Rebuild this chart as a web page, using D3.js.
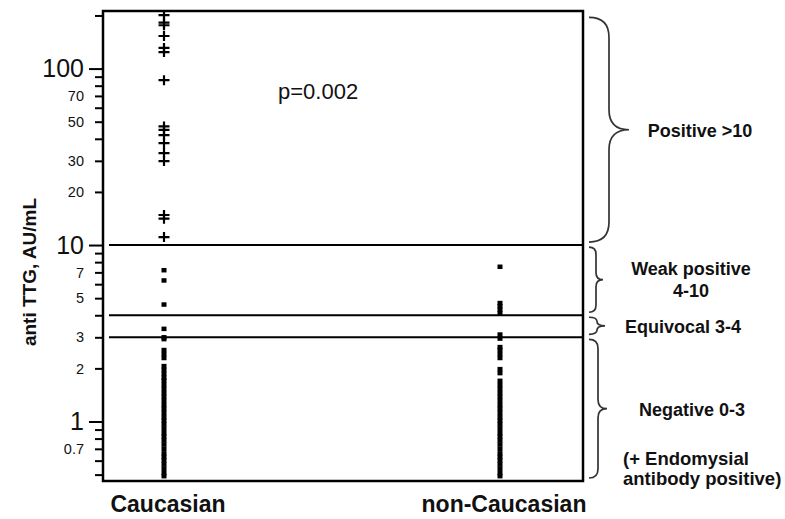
<!DOCTYPE html>
<html>
<head>
<meta charset="utf-8">
<script src="https://cdn.jsdelivr.net/npm/d3@7"></script>
<style>
    body { margin: 0; background: #fff; }
    svg { display: block; font-family: "Liberation Sans", Arial, sans-serif; }
</style>
</head>
<body>
<svg id="chart" width="785" height="519"></svg>
<script>
// anti TTG values (AU/mL)
var groups = [ 'Caucasian', 'non-Caucasian' ];
var caucasian = [
    201, 182, 176, 153, 131, 124, 86, 47, 45, 42, 37.8, 33.2, 29.9, 14.8, 14.1, 11.1,
    7.2, 6.3, 4.6, 3.35, 3.0, 2.93,
    2.54, 2.41, 2.29,
    2.06, 1.96, 1.86, 1.77, 1.70,
    1.61, 1.53, 1.45, 1.38, 1.31, 1.24, 1.18, 1.12, 1.06, 1.01, 0.96, 0.91,
    0.86, 0.82, 0.78, 0.74, 0.70, 0.66, 0.63, 0.60, 0.57, 0.54, 0.51, 0.49
];
var nonCaucasian = [
    7.53,
    4.69, 4.5, 4.3, 4.1,
    3.11, 2.95,
    2.64, 2.54, 2.41, 2.29,
    1.98, 1.88,
    1.70, 1.61, 1.53, 1.45, 1.38, 1.31, 1.24, 1.18, 1.12, 1.06, 1.01, 0.96, 0.91,
    0.86, 0.82, 0.78, 0.74, 0.70, 0.66, 0.63, 0.60, 0.57, 0.54, 0.51, 0.49
];
var cutoffs = [ 10, 4, 3 ];
var tickValues = [ 0.5, 0.6, 0.7, 0.8, 0.9, 1, 2, 3, 4, 5, 6, 7, 8, 9, 10,
                   20, 30, 40, 50, 60, 70, 80, 90, 100, 200 ];
var tickLabels = [ 0.7, 1, 2, 3, 5, 7, 10, 20, 30, 50, 70, 100 ];
var decadeTicks = [ 1, 10, 100 ];
var yTitle = 'anti TTG, AU/mL';
var pLabel = 'p=0.002';
var bandRanges = [ [ 10, 200 ], [ 4, 10 ], [ 3, 4 ], [ 0.46, 3 ] ];
var bandLabels = [ [ 'Positive >10' ], [ 'Weak positive', '4-10' ], [ 'Equivocal 3-4' ], [ 'Negative 0-3' ] ];
var noteLines = [ '(+ Endomysial', 'antibody positive)' ];

// layout
var box = { left: 103, right: 583, top: 11, bottom: 481 };
var braceDepth = [ 20, 7, 8, 9 ];
var bandTextX = [ 700, 691, 683, 692 ];

var svg = d3.select( '#chart' );

var y = d3.scaleLog()
    .domain( [ 0.46, 212 ] )
    .range( [ box.bottom, box.top ] );
var x = d3.scalePoint()
    .domain( groups )
    .range( [ 164, 500 ] );

// y axis with log ticks
var yAxis = d3.axisLeft( y )
    .tickValues( tickValues )
    .tickSize( 8 )
    .tickPadding( 4 )
    .tickFormat( function( d ) { return tickLabels.indexOf( d ) >= 0 ? String( d ) : ''; } );

var axisG = svg.append( 'g' )
    .attr( 'transform', 'translate(' + box.left + ',0)' )
    .call( yAxis );
axisG.select( '.domain' ).remove();
axisG.selectAll( '.tick line' )
    .attr( 'x2', function( d ) { return decadeTicks.indexOf( d ) >= 0 ? -14 : -8; } )
    .attr( 'stroke', '#000' )
    .attr( 'stroke-width', 2 );
axisG.selectAll( '.tick text' )
    .attr( 'x', -19 )
    .attr( 'fill', '#111' )
    .style( 'font-family', '"Liberation Sans", Arial, sans-serif' )
    .style( 'font-size', function( d ) { return decadeTicks.indexOf( d ) >= 0 ? '25px' : '14.5px'; } );

// plot frame
svg.append( 'rect' )
    .attr( 'x', box.left )
    .attr( 'y', box.top )
    .attr( 'width', box.right - box.left )
    .attr( 'height', box.bottom - box.top )
    .attr( 'fill', 'none' )
    .attr( 'stroke', '#000' )
    .attr( 'stroke-width', 2.5 );

// cutoff lines
svg.selectAll( 'line.cutoff' )
    .data( cutoffs )
    .enter().append( 'line' )
    .attr( 'class', 'cutoff' )
    .attr( 'x1', box.left + 6 )
    .attr( 'x2', box.right )
    .attr( 'y1', function( d ) { return y( d ); } )
    .attr( 'y2', function( d ) { return y( d ); } )
    .attr( 'stroke', '#000' )
    .attr( 'stroke-width', 2 );

// points: crosses for positives, small squares below 10
function drawGroup( name, values ) {
    var cx = x( name );
    var g = svg.append( 'g' );
    g.selectAll( 'rect' )
        .data( values.filter( function( v ) { return v < 10; } ) )
        .enter().append( 'rect' )
        .attr( 'x', cx - 2.5 )
        .attr( 'y', function( v ) { return y( v ) - 2.25; } )
        .attr( 'width', 5 )
        .attr( 'height', 4.5 )
        .attr( 'fill', '#000' );
    g.selectAll( 'path' )
        .data( values.filter( function( v ) { return v >= 10; } ) )
        .enter().append( 'path' )
        .attr( 'd', 'M-5.5,0H5.5M0,-5V5' )
        .attr( 'transform', function( v ) { return 'translate(' + cx + ',' + y( v ) + ')'; } )
        .attr( 'stroke', '#000' )
        .attr( 'stroke-width', 2.2 )
        .attr( 'fill', 'none' );
}
drawGroup( groups[ 0 ], caucasian );
drawGroup( groups[ 1 ], nonCaucasian );

// group labels
svg.selectAll( 'text.group' )
    .data( groups )
    .enter().append( 'text' )
    .attr( 'class', 'group' )
    .attr( 'x', function( d ) { return x( d ) + 4; } )
    .attr( 'y', 512 )
    .attr( 'text-anchor', 'middle' )
    .style( 'font-size', '23px' )
    .style( 'font-weight', 'bold' )
    .attr( 'fill', '#111' )
    .text( function( d ) { return d; } );

// y title
svg.append( 'text' )
    .attr( 'transform', 'translate(36,272) rotate(-90)' )
    .attr( 'text-anchor', 'middle' )
    .style( 'font-size', '19px' )
    .style( 'font-weight', 'bold' )
    .attr( 'fill', '#111' )
    .text( yTitle );

// p value
svg.append( 'text' )
    .attr( 'x', 278 )
    .attr( 'y', 99 )
    .style( 'font-size', '22px' )
    .attr( 'fill', '#111' )
    .text( pLabel );

// braces and band labels on the right
function bracePath( x0, y1, y2, w ) {
    var x1 = x0 + w, x2 = x0 + 2 * w, ym = ( y1 + y2 ) / 2;
    var r = Math.min( w, ( y2 - y1 ) / 4 );
    return 'M' + x0 + ',' + y1 +
        'Q' + x1 + ',' + y1 + ' ' + x1 + ',' + ( y1 + r ) +
        'L' + x1 + ',' + ( ym - r ) +
        'Q' + x1 + ',' + ym + ' ' + x2 + ',' + ym +
        'Q' + x1 + ',' + ym + ' ' + x1 + ',' + ( ym + r ) +
        'L' + x1 + ',' + ( y2 - r ) +
        'Q' + x1 + ',' + y2 + ' ' + x0 + ',' + y2;
}

bandRanges.forEach( function( range, i ) {
    var y1 = y( range[ 1 ] ) + 2;
    var y2 = y( range[ 0 ] ) - 3;
    var ym = ( y1 + y2 ) / 2;
    svg.append( 'path' )
        .attr( 'd', bracePath( box.right + 6, y1, y2, braceDepth[ i ] ) )
        .attr( 'fill', 'none' )
        .attr( 'stroke', '#333' )
        .attr( 'stroke-width', 1.7 );
    var lines = bandLabels[ i ];
    var startY = lines.length > 1 ? ym - 5 : ym + 7;
    lines.forEach( function( line, j ) {
        svg.append( 'text' )
            .attr( 'x', bandTextX[ i ] )
            .attr( 'y', startY + j * 22 )
            .attr( 'text-anchor', 'middle' )
            .style( 'font-size', '18px' )
            .style( 'font-weight', 'bold' )
            .attr( 'fill', '#111' )
            .text( line );
    });
});

noteLines.forEach( function( line, j ) {
    svg.append( 'text' )
        .attr( 'x', 623 )
        .attr( 'y', 465 + j * 20 )
        .style( 'font-size', '18.5px' )
        .style( 'font-weight', 'bold' )
        .attr( 'fill', '#111' )
        .text( line );
});
</script>
</body>
</html>
